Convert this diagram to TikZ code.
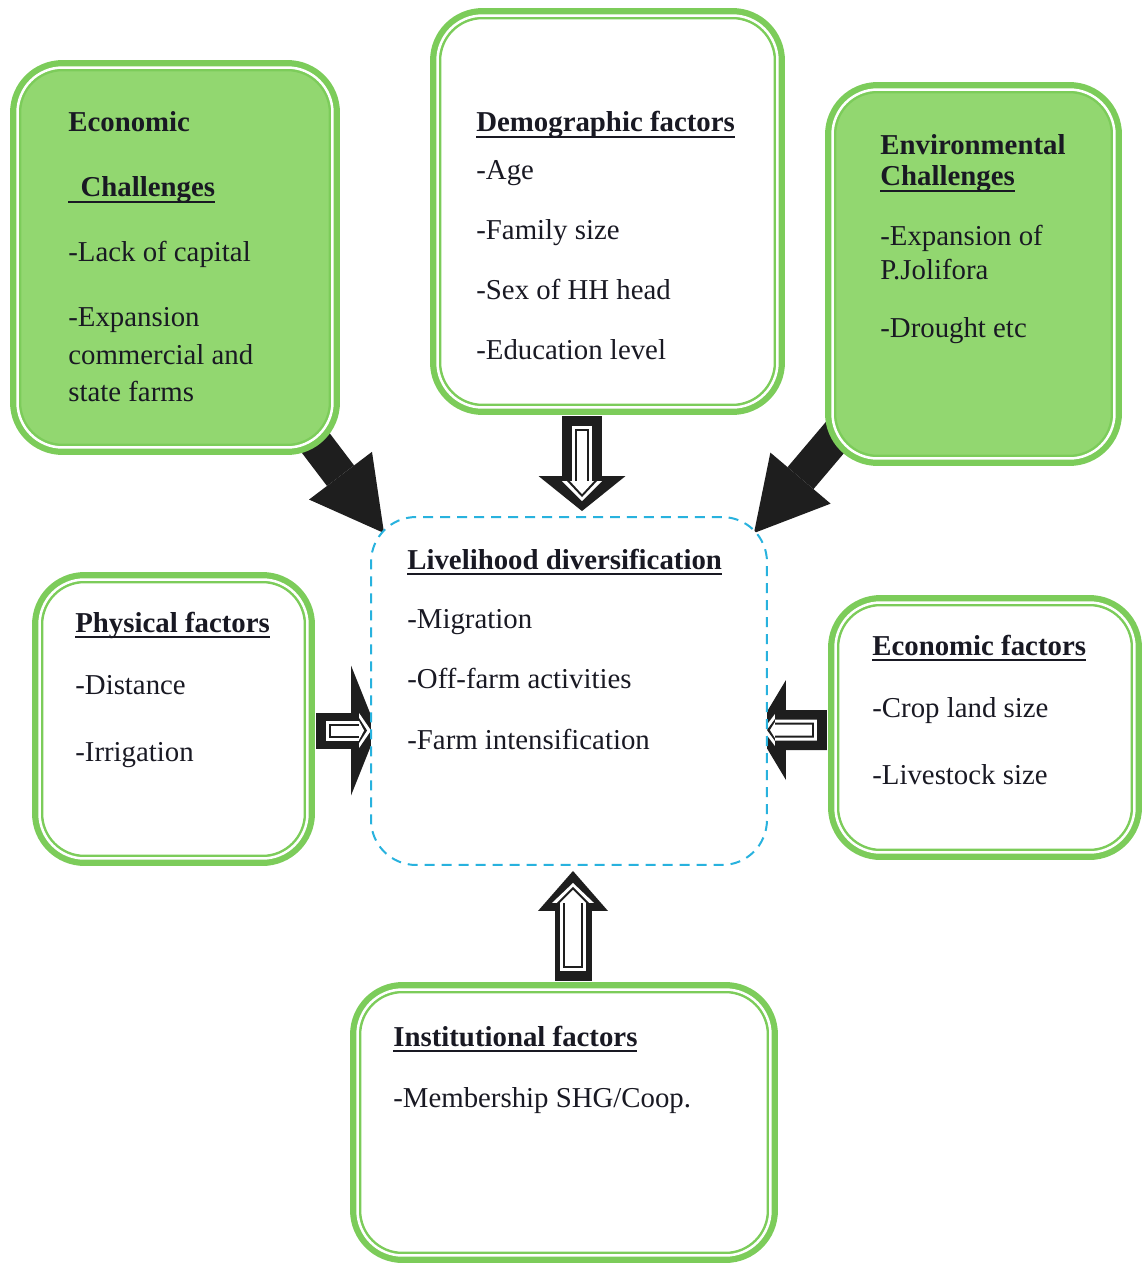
\documentclass[tikz,border=0pt]{standalone}
\usepackage{fontspec}
\setmainfont{Liberation Serif}
\usetikzlibrary{arrows.meta,calc,backgrounds}

\definecolor{boxgreen}{RGB}{124,204,90}
\definecolor{fillgreen}{RGB}{146,215,112}
\definecolor{dashblue}{RGB}{40,178,222}
\definecolor{inkblack}{RGB}{30,30,30}
\definecolor{textblack}{RGB}{25,25,35}

% bold heading with an underline
\newcommand{\heading}[1]{\setbox0\hbox{\bfseries #1}\rlap{\rule[-3.4pt]{\wd0}{1.1pt}}\box0}

% hollow block arrow: from, to, shaft, head length, head width,
% inner shaft, inner head length, inner head width, tip inset (px)
\newcommand{\hollowarrow}[9]{%
  \pgfmathsetlengthmacro\oS{#3*0.02cm}
  \pgfmathsetlengthmacro\oL{#4*0.02cm}
  \pgfmathsetlengthmacro\oW{#5*0.02cm}
  \pgfmathsetlengthmacro\aS{#6*0.02cm}
  \pgfmathsetlengthmacro\aL{#7*0.02cm}
  \pgfmathsetlengthmacro\aW{#8*0.02cm}
  \pgfmathsetlengthmacro\aT{#9*0.02cm}
  \pgfmathsetlengthmacro\bS{(#6-6)*0.02cm}
  \pgfmathsetlengthmacro\bL{(#7-4)*0.02cm}
  \pgfmathsetlengthmacro\bW{(#8-10)*0.02cm}
  \pgfmathsetlengthmacro\bT{(#9+4)*0.02cm}
  \pgfmathsetlengthmacro\cS{(#6-10)*0.02cm}
  \pgfmathsetlengthmacro\cL{(#7-7)*0.02cm}
  \pgfmathsetlengthmacro\cW{(#8-16)*0.02cm}
  \pgfmathsetlengthmacro\cT{(#9+7)*0.02cm}
  \draw[draw=inkblack, line width=\oS, -{Triangle[length=\oL, width=\oW, line width=0pt]}] #1 -- #2;
  \draw[draw=white, line width=\aS, shorten <=0.2cm, shorten >=\aT, -{Triangle[length=\aL, width=\aW, line width=0pt]}] #1 -- #2;
  \draw[draw=inkblack, line width=\bS, shorten <=0.26cm, shorten >=\bT, -{Triangle[length=\bL, width=\bW, line width=0pt]}] #1 -- #2;
  \draw[draw=white, line width=\cS, shorten <=0.3cm, shorten >=\cT, -{Triangle[length=\cL, width=\cW, line width=0pt]}] #1 -- #2;
}

\tikzset{
  factorbox/.style={draw=boxgreen, double=white, line width=0.05cm, double distance=0.05cm,
    preaction={draw=boxgreen, line width=0.3cm},
    rounded corners=0.9cm, fill=white, inner sep=0pt},
  challengebox/.style={factorbox, fill=fillgreen},
  centrebox/.style={draw=dashblue, line width=0.04cm, dash pattern=on 0.2cm off 0.14cm,
    rounded corners=0.9cm, fill=white, inner sep=0pt},
  boxtext/.style={anchor=base west, inner sep=0pt, text=textblack,
    font=\fontsize{16.4pt}{18.14pt}\selectfont},
  bigarrow/.style={draw=inkblack, line width=0.68cm,
    -{Triangle[length=1.44cm, width=1.58cm, line width=0pt]}}
}

\begin{document}
\begin{tikzpicture}[x=0.02cm, y=-0.02cm]
\useasboundingbox (0,0) rectangle (1144,1264);

% boxes
\node[challengebox, minimum width=6.3cm, minimum height=7.6cm] (econ) at (175,257.5) {};
\node[factorbox, minimum width=6.8cm, minimum height=7.84cm] (demog) at (607.5,211.5) {};
\node[challengebox, minimum width=5.64cm, minimum height=7.38cm] (env) at (973.5,274) {};
\node[centrebox, minimum width=7.92cm, minimum height=6.96cm] (liv) at (569,691) {};
\node[factorbox, minimum width=5.36cm, minimum height=5.58cm] (phys) at (173.5,719) {};
\node[factorbox, minimum width=5.98cm, minimum height=5.0cm] (econf) at (985,727.5) {};
\node[factorbox, minimum width=8.26cm, minimum height=5.32cm] (inst) at (564,1122.5) {};

% texts
\node[boxtext] (econtext) at (68,132) {\begin{tabular}[t]{@{}l@{}}
  \textbf{Economic}\\[18.7pt]
  \heading{\hspace*{7pt}Challenges}\\[18.7pt]
  -Lack of capital\\[18.7pt]
  -Expansion\\[3.4pt]
  commercial and\\[3.4pt]
  state farms\end{tabular}};
\node[boxtext] (demogtext) at (476,132) {\begin{tabular}[t]{@{}l@{}}
  \heading{Demographic factors}\\[9.1pt]
  -Age\\[15.9pt]
  -Family size\\[15.9pt]
  -Sex of HH head\\[15.9pt]
  -Education level\end{tabular}};
\node[boxtext] (envtext) at (880,154) {\begin{tabular}[t]{@{}l@{}}
  \textbf{Environmental}\\
  \heading{Challenges}\\[15.9pt]
  -Expansion of\\[1.1pt]
  P.Jolifora\\[14.7pt]
  -Drought etc\end{tabular}};
\node[boxtext] (livtext) at (407,569) {\begin{tabular}[t]{@{}l@{}}
  \heading{Livelihood diversification}\\[15.9pt]
  -Migration\\[15.9pt]
  -Off-farm activities\\[16.5pt]
  -Farm intensification\end{tabular}};
\node[boxtext] (phystext) at (75,632) {\begin{tabular}[t]{@{}l@{}}
  \heading{Physical factors}\\[17.6pt]
  -Distance\\[19.8pt]
  -Irrigation\end{tabular}};
\node[boxtext] (econftext) at (872,655) {\begin{tabular}[t]{@{}l@{}}
  \heading{Economic factors}\\[17.6pt]
  -Crop land size\\[19.8pt]
  -Livestock size\end{tabular}};
\node[boxtext] (insttext) at (393,1046) {\begin{tabular}[t]{@{}l@{}}
  \heading{Institutional factors}\\[17pt]
  -Membership SHG/Coop.\end{tabular}};

% arrows
\begin{scope}[on background layer]
\draw[bigarrow] (econ.center) -- ($(liv.north west)+(14,17)$);
\draw[bigarrow] (env.center) -- ($(liv.north east)+(-14,17)$);
\hollowarrow{($(demog.south)+(-25.5,7.5)$)}{($(liv.north)+(13,-5)$)}{40}{35}{87}{20}{20}{40}{10}
\hollowarrow{($(phys.east)+(7.5,11.5)$)}{($(liv.west)+(7,39.5)$)}{36}{26}{130}{20}{12}{35}{6}
\hollowarrow{($(econf.west)+(-7.5,2.5)$)}{($(liv.east)+(-12,39)$)}{40}{30}{100}{21}{12}{32}{7}
\hollowarrow{($(inst.north)+(9,-7.5)$)}{($(liv.south)+(4,5)$)}{37}{40}{70}{26}{20}{42}{12}
\end{scope}
\end{tikzpicture}
\end{document}
